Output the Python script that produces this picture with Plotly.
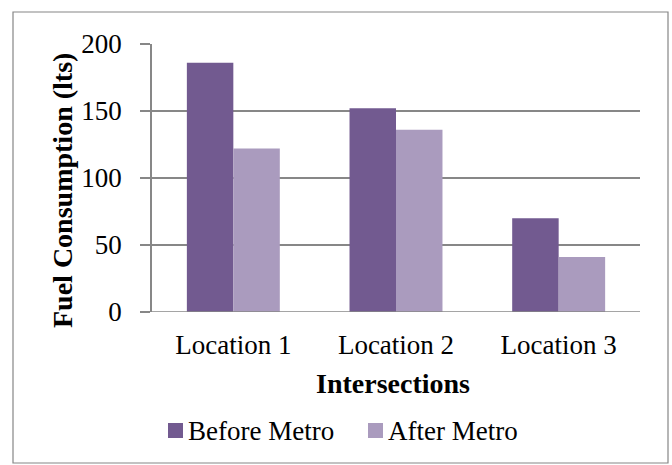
import plotly.graph_objects as go

# Fuel consumption at three intersections, before and after the metro opened
locations = ["Location 1", "Location 2", "Location 3"]
before_metro = [186, 152, 70]
after_metro = [122, 136, 41]
y_ticks = [0, 50, 100, 150, 200]
series_names = ["Before Metro", "After Metro"]
series_colors = ["#725A90", "#AA9BBE"]

FONT = "Liberation Serif"
GRID = "#878787"
TICK_SIZE = 27
TITLE_SIZE = 28

fig = go.Figure()
for name, vals, col in zip(series_names, [before_metro, after_metro], series_colors):
    fig.add_trace(go.Bar(x=locations, y=vals, name=name,
                         marker=dict(color=col, line=dict(width=0))))

W, H = 672, 465
L, R, T, B = 152, 32, 44, 153
pw, ph = W - L - R, H - T - B


def px(x):
    return (x - L) / pw


def py(y):
    return (H - B - y) / ph


# Legend drawn as swatches plus labels beneath the chart
legend_shapes, legend_notes = [], []
for (sq_x, name, col) in zip([168, 368], series_names, series_colors):
    legend_shapes.append(dict(type="rect", xref="paper", yref="paper",
                              x0=px(sq_x), x1=px(sq_x + 15),
                              y0=py(438), y1=py(423),
                              fillcolor=col, line=dict(width=0)))
    legend_notes.append(dict(text=name, xref="paper", yref="paper",
                             x=px(sq_x + 18), y=py(431),
                             xanchor="left", yanchor="middle", showarrow=False,
                             font=dict(family=FONT, size=TICK_SIZE)))

fig.update_layout(
    width=W, height=H,
    margin=dict(l=L, r=R, t=T, b=B),
    paper_bgcolor="white", plot_bgcolor="white",
    font=dict(family=FONT, size=TICK_SIZE, color="black"),
    barmode="group", bargap=1.5 / 3.5, bargroupgap=0,
    showlegend=False,
    xaxis=dict(showgrid=False, showline=False, ticks="",
               ticklabelstandoff=14,
               tickfont=dict(family=FONT, size=TICK_SIZE)),
    yaxis=dict(range=[0, 200], tickvals=y_ticks, showgrid=True,
               gridcolor=GRID, gridwidth=1.5, zeroline=False,
               showline=True, linecolor=GRID, linewidth=1.5,
               ticks="outside", ticklen=10, tickcolor=GRID, tickwidth=1.5,
               ticklabelstandoff=13,
               tickfont=dict(family=FONT, size=TICK_SIZE)),
    shapes=[
        dict(type="rect", xref="paper", yref="paper",
             x0=px(13), x1=px(668), y0=py(463), y1=py(12),
             line=dict(color="#868686", width=1.2), layer="below"),
        dict(type="line", xref="paper", yref="y",
             x0=px(142), x1=1, y0=0, y1=0,
             line=dict(color=GRID, width=1.5)),
    ] + legend_shapes,
    annotations=[
        dict(text="<b>Fuel Consumption (lts)</b>", xref="paper", yref="paper",
             x=px(62), y=py(191), xanchor="center", yanchor="middle",
             textangle=-90, showarrow=False,
             font=dict(family=FONT, size=TITLE_SIZE)),
        dict(text="<b>Intersections</b>", xref="paper", yref="paper",
             x=px(393), y=py(383), xanchor="center", yanchor="middle",
             showarrow=False,
             font=dict(family=FONT, size=TITLE_SIZE)),
    ] + legend_notes,
)

fig.write_html("out.html")
